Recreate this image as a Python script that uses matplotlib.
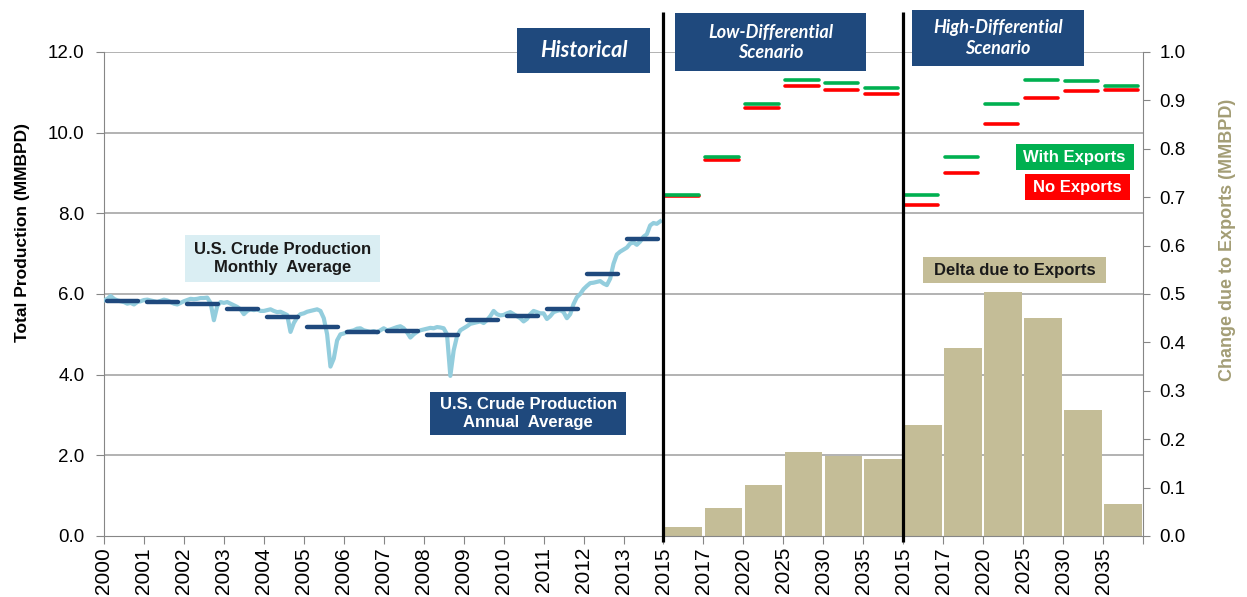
import numpy as np
import matplotlib
matplotlib.use("Agg")
import matplotlib.pyplot as plt
from matplotlib.patches import Rectangle

plt.rcParams["font.family"] = ["Liberation Sans", "DejaVu Sans"]

NAVY = "#1F497D"
AQUA = "#93CDDD"
TAN = "#C4BD97"
TAN_TEXT = "#A39D75"
GREEN = "#00B050"
RED = "#FF0000"
GRID = "#A6A6A6"

# category labels along the x axis (historical years, then two scenario blocks)
TICK_LABELS = [str(y) for y in range(2000, 2014)] + \
    ["2015", "2017", "2020", "2025", "2030", "2035"] * 2

# U.S. crude production, monthly (MMBPD), Jan 2000 - Dec 2013
M2000 = [5.84, 5.88, 5.95, 5.88, 5.84, 5.82, 5.80, 5.76, 5.78, 5.74, 5.80, 5.82]
M2001 = [5.85, 5.86, 5.84, 5.82, 5.80, 5.83, 5.86, 5.84, 5.80, 5.76, 5.74, 5.78]
M2002 = [5.82, 5.85, 5.88, 5.87, 5.88, 5.90, 5.90, 5.91, 5.78, 5.35, 5.70, 5.80]
M2003 = [5.78, 5.80, 5.76, 5.72, 5.68, 5.62, 5.50, 5.58, 5.62, 5.60, 5.62, 5.58]
M2004 = [5.58, 5.60, 5.62, 5.58, 5.55, 5.56, 5.52, 5.48, 5.06, 5.28, 5.42, 5.50]
M2005 = [5.52, 5.56, 5.58, 5.60, 5.62, 5.58, 5.40, 5.00, 4.20, 4.40, 4.85, 5.00]
M2006 = [5.02, 5.06, 5.08, 5.10, 5.14, 5.15, 5.10, 5.08, 5.06, 5.08, 5.05, 5.10]
M2007 = [5.15, 5.10, 5.12, 5.15, 5.18, 5.20, 5.15, 5.05, 4.92, 5.00, 5.06, 5.10]
M2008 = [5.12, 5.14, 5.16, 5.15, 5.18, 5.17, 5.15, 5.00, 3.97, 4.60, 4.95, 5.10]
M2009 = [5.15, 5.20, 5.26, 5.28, 5.30, 5.32, 5.28, 5.35, 5.45, 5.58, 5.50, 5.47]
M2010 = [5.48, 5.52, 5.55, 5.50, 5.45, 5.40, 5.32, 5.38, 5.50, 5.58, 5.55, 5.52]
M2011 = [5.52, 5.38, 5.45, 5.55, 5.58, 5.60, 5.55, 5.40, 5.50, 5.75, 5.92, 6.00]
M2012 = [6.12, 6.20, 6.27, 6.28, 6.30, 6.32, 6.26, 6.22, 6.38, 6.75, 6.98, 7.05]
M2013 = [7.10, 7.15, 7.25, 7.28, 7.22, 7.30, 7.42, 7.48, 7.70, 7.76, 7.74, 7.80]
MONTHLY = (M2000 + M2001 + M2002 + M2003 + M2004 + M2005 + M2006 +
           M2007 + M2008 + M2009 + M2010 + M2011 + M2012 + M2013)

# annual averages 2000-2013 (MMBPD)
ANNUAL_AVG = [5.82, 5.79, 5.75, 5.63, 5.43, 5.17, 5.06,
              5.08, 4.99, 5.35, 5.45, 5.63, 6.49, 7.37]

# scenario production (MMBPD) for 2015, 2017, 2020, 2025, 2030, 2035
LOW_WITH = [8.45, 9.39, 10.72, 11.30, 11.24, 11.10]
LOW_NO = [8.42, 9.32, 10.62, 11.15, 11.07, 10.95]
HIGH_WITH = [8.45, 9.39, 10.71, 11.30, 11.28, 11.15]
HIGH_NO = [8.20, 9.00, 10.21, 10.87, 11.03, 11.07]

# change due to exports (MMBPD), right axis
LOW_DELTA = [0.019, 0.058, 0.105, 0.174, 0.165, 0.159]
HIGH_DELTA = [0.229, 0.388, 0.504, 0.450, 0.260, 0.066]


def label_box(ax, x0, x1, y0, y1, text, fc, tc, **font):
    ax.add_patch(Rectangle((x0, y0), x1 - x0, y1 - y0, facecolor=fc,
                           edgecolor="none", clip_on=False, zorder=6))
    ax.text((x0 + x1) / 2, (y0 + y1) / 2, text, ha="center", va="center",
            color=tc, zorder=7, clip_on=False, linespacing=1.25, **font)


fig = plt.figure(figsize=(12.47, 5.97), dpi=100)
ax = fig.add_axes([0.0834, 0.1022, 0.8332, 0.8107])
ax2 = ax.twinx()
ax.set_zorder(ax2.get_zorder() + 1)
ax.patch.set_visible(False)

n_hist = len(ANNUAL_AVG)
n_scen = len(LOW_WITH)
low_x = n_hist + np.arange(n_scen)
high_x = n_hist + n_scen + np.arange(n_scen)

# ----- right axis: bars + gridlines (behind everything) -----
ax2.hlines(np.arange(2, 13, 2), 0, 1, transform=ax.get_yaxis_transform(),
           color=GRID, lw=1.2, zorder=0)
ax2.bar(low_x + 0.5, LOW_DELTA, width=0.94, color=TAN, zorder=2)
ax2.bar(high_x + 0.5, HIGH_DELTA, width=0.94, color=TAN, zorder=2)
ax2.set_ylim(0, 1.0)
ax2.set_yticks(np.arange(0, 1.01, 0.1))
ax2.set_yticklabels([f"{v:.1f}" for v in np.arange(0, 1.01, 0.1)])
ax2.tick_params(axis="y", direction="out", length=5, color="#868686",
                labelsize=13.5, pad=7)
for s in ["top", "left", "bottom"]:
    ax2.spines[s].set_visible(False)
ax2.spines["right"].set_color("#868686")

# ----- left axis: production lines -----
ax.plot(np.arange(len(MONTHLY)) / 12, MONTHLY, color=AQUA, lw=3,
        solid_joinstyle="round", zorder=3)
hx = np.arange(n_hist)
ax.hlines(ANNUAL_AVG, hx + 0.08, hx + 0.86, color=NAVY, lw=3.2,
          capstyle="round", zorder=4)

for xs, with_e, no_e in [(low_x, LOW_WITH, LOW_NO), (high_x, HIGH_WITH, HIGH_NO)]:
    ax.hlines(no_e, xs + 0.05, xs + 0.88, color=RED, lw=2.6,
              capstyle="round", zorder=4)
    ax.hlines(with_e, xs + 0.05, xs + 0.88, color=GREEN, lw=2.6,
              capstyle="round", zorder=4)

# scenario dividers
for xv in [n_hist, n_hist + n_scen]:
    ax.plot([xv, xv], [-0.15, 13.0], color="black", lw=2.3,
            clip_on=False, zorder=5, solid_capstyle="butt")

ax.set_xlim(0, n_hist + 2 * n_scen)
ax.set_ylim(0, 12)
ax.set_yticks(np.arange(0, 12.1, 2))
ax.set_yticklabels([f"{v:.1f}" for v in np.arange(0, 12.1, 2)])
ax.set_xticks(np.arange(n_hist + 2 * n_scen + 1))
ax.set_xticklabels(TICK_LABELS + [""], rotation=90, fontsize=15)
ax.tick_params(axis="x", direction="out", length=6, color="#868686", pad=2)
ax.tick_params(axis="y", direction="out", length=6, color="#868686",
               labelsize=13.5, pad=8)
for s in ["top", "right"]:
    ax.spines[s].set_visible(False)
for s in ["left", "bottom"]:
    ax.spines[s].set_color("#868686")

fig.text(23 / 1247, 1 - 233 / 597, "Total Production (MMBPD)", rotation=90,
         ha="center", va="center", fontsize=12.5, fontweight="bold")
fig.text(1228 / 1247, 1 - 240 / 597, "Change due to Exports (MMBPD)",
         rotation=90, ha="center", va="center", fontsize=13,
         fontweight="bold", color=TAN_TEXT)

# ----- annotation boxes -----
scen_font = dict(family=["Lato", "DejaVu Sans"], fontweight="bold", style="italic")
label_box(ax, 10.34, 13.67, 11.47, 12.59, "Historical", NAVY, "white",
          fontsize=15.5, **scen_font)
label_box(ax, 14.30, 19.06, 11.52, 12.96, "Low-Differential\nScenario", NAVY,
          "white", fontsize=13, **scen_font)
label_box(ax, 20.21, 24.52, 11.65, 13.04, "High-Differential\nScenario", NAVY,
          "white", fontsize=13, **scen_font)
label_box(ax, 2.03, 6.91, 6.29, 7.46, "U.S. Crude Production\nMonthly  Average",
          "#DAEEF3", "#1A1A1A", fontsize=12, fontweight="bold")
label_box(ax, 8.16, 13.07, 2.50, 3.57, "U.S. Crude Production\nAnnual  Average",
          NAVY, "white", fontsize=12, fontweight="bold")
label_box(ax, 22.81, 25.77, 9.07, 9.71, "With Exports", GREEN, "white",
          fontsize=12, fontweight="bold")
label_box(ax, 23.04, 25.67, 8.33, 8.97, "No Exports", RED, "white",
          fontsize=12, fontweight="bold")
label_box(ax, 20.49, 25.07, 6.27, 6.91, "Delta due to Exports", TAN, "#1A1A1A",
          fontsize=12, fontweight="bold")

fig.savefig("out.png", dpi=100)
